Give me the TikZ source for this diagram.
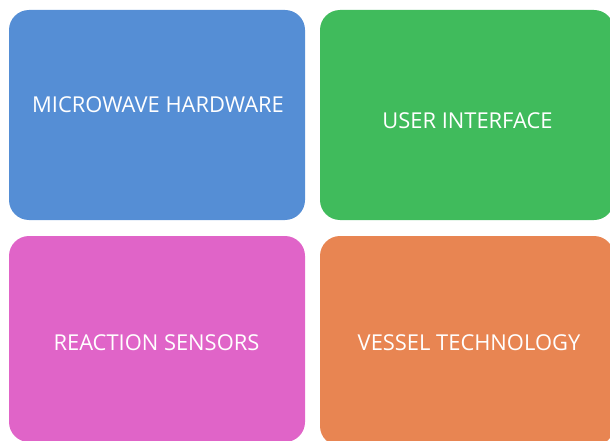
\documentclass[tikz,border=0pt]{standalone}
\usepackage{fontspec}
\setmainfont{Open Sans}
\definecolor{hwblue}{RGB}{85,142,213}
\definecolor{uigreen}{RGB}{64,187,92}
\definecolor{senspink}{RGB}{224,100,200}
\definecolor{vesorange}{RGB}{232,133,82}
\begin{document}
\begin{tikzpicture}[x=1pt,y=-1pt,
  tile/.style={rounded corners=20pt, draw=none},
  tilelabel/.style={text=white, font=\fontsize{21.9}{25}\selectfont, inner sep=0pt, anchor=center}]
  \useasboundingbox (0,0) rectangle (610,441);
  \clip (0,0) rectangle (610,441);
  % four feature tiles
  \fill[tile, hwblue]    (9,10)   rectangle (305,220);
  \fill[tile, uigreen]   (320,10) rectangle (614,220);
  \fill[tile, senspink]  (9,236)  rectangle (305,442);
  \fill[tile, vesorange] (320,236) rectangle (614,446);
  % tile captions
  \node[tilelabel] (hw)  at (158,105) {MICROWAVE HARDWARE};
  \node[tilelabel] (ui)  at (467.5,121) {USER INTERFACE};
  \node[tilelabel] (rs)  at (156.5,343) {REACTION SENSORS};
  \node[tilelabel] (vt)  at (469,343) {VESSEL TECHNOLOGY};
\end{tikzpicture}
\end{document}
